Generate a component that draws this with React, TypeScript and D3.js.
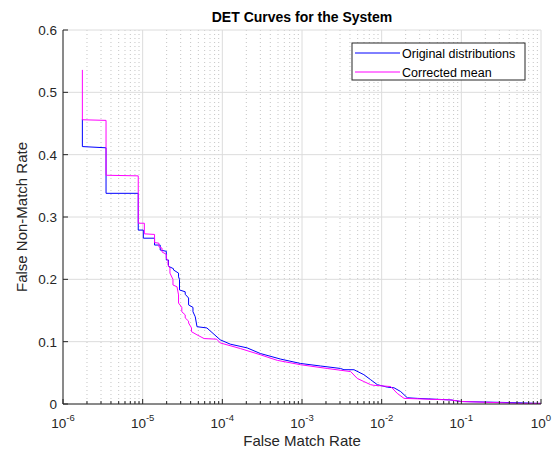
import React, { useEffect, useRef } from "react";
import * as d3 from "d3";

// DET curve vertices (FMR, FNMR)
const blueFmr = [1.75e-6, 1.75e-6, 3.47e-6, 3.47e-6, 8.8e-6, 8.8e-6, 1.02e-5, 1.02e-5, 1.41e-5, 1.41e-5, 1.66e-5, 1.66e-5, 1.98e-5, 1.98e-5, 2.11e-5, 2.11e-5, 2.44e-5, 2.44e-5, 2.82e-5, 2.82e-5, 2.9e-5, 2.9e-5, 3.42e-5, 3.42e-5, 3.77e-5, 3.77e-5, 4.28e-5, 4.28e-5, 4.57e-5, 4.81e-5, 6.4e-5, 9.4e-5, 1.26e-4, 2.05e-4, 3.0e-4, 5.4e-4, 9.6e-4, 1.7e-3, 3.05e-3, 3.36e-3, 4.49e-3, 5.98e-3, 7.27e-3, 8.83e-3, 1.18e-2, 1.43e-2, 1.73e-2, 2.1e-2, 2.81e-2, 7.4e-2, 9.9e-2, 0.51, 0.91, 1];
const blueFnmr = [0.457, 0.413, 0.411, 0.338, 0.338, 0.279, 0.279, 0.266, 0.266, 0.255, 0.255, 0.247, 0.245, 0.231, 0.231, 0.221, 0.217, 0.215, 0.21, 0.204, 0.2, 0.183, 0.18, 0.176, 0.17, 0.159, 0.155, 0.148, 0.14, 0.124, 0.122, 0.103, 0.096, 0.09, 0.081, 0.072, 0.065, 0.061, 0.057, 0.055, 0.055, 0.047, 0.039, 0.031, 0.027, 0.026, 0.02, 0.01, 0.009, 0.0065, 0.004, 0.002, 0.001, 0.001];

const pinkFmr = [1.75e-6, 1.75e-6, 3.47e-6, 3.47e-6, 8.8e-6, 8.8e-6, 1.05e-5, 1.05e-5, 1.41e-5, 1.41e-5, 1.6e-5, 1.6e-5, 1.75e-5, 1.75e-5, 1.98e-5, 1.98e-5, 2.08e-5, 2.08e-5, 2.2e-5, 2.2e-5, 2.4e-5, 2.4e-5, 2.7e-5, 2.82e-5, 2.82e-5, 3.1e-5, 3.1e-5, 3.42e-5, 3.42e-5, 3.77e-5, 3.77e-5, 4.1e-5, 4.1e-5, 4.8e-5, 5.9e-5, 8.5e-5, 9.4e-5, 1.68e-4, 3.0e-4, 4.9e-4, 9.6e-4, 2.07e-3, 4.08e-3, 4.94e-3, 5.98e-3, 7.27e-3, 8.0e-3, 1.3e-2, 1.57e-2, 1.91e-2, 7.4e-2, 9.9e-2, 0.56, 1];
const pinkFnmr = [0.536, 0.456, 0.455, 0.367, 0.366, 0.29, 0.29, 0.273, 0.272, 0.259, 0.258, 0.252, 0.25, 0.244, 0.24, 0.234, 0.23, 0.223, 0.218, 0.21, 0.2, 0.191, 0.188, 0.175, 0.162, 0.155, 0.148, 0.143, 0.138, 0.133, 0.13, 0.122, 0.116, 0.111, 0.105, 0.104, 0.098, 0.089, 0.079, 0.07, 0.063, 0.057, 0.052, 0.041, 0.036, 0.031, 0.03, 0.028, 0.017, 0.009, 0.0065, 0.004, 0.001, 0.001];

const xExponents = [-6, -5, -4, -3, -2, -1, 0];
const yTicks = [0, 0.1, 0.2, 0.3, 0.4, 0.5, 0.6];
const seriesNames = ["Original distributions", "Corrected mean"];
const seriesColors = ["#0000ff", "#ff00ff"];

const App = () => {
  const svgRef = useRef<SVGSVGElement>(null);

  useEffect(() => {
    document.body.style.margin = "0";
    const svg = d3.select(svgRef.current);
    svg.selectAll("*").remove();

    const width = 558;
    const height = 457;
    const left = 63, right = 541, top = 30, bottom = 404;
    const font = "'Liberation Sans', Arial, sans-serif";
    const axisColor = "#262626";

    const x = d3.scaleLog().domain([1e-6, 1]).range([left, right]);
    const y = d3.scaleLinear().domain([0, 0.6]).range([bottom, top]);

    svg.append("rect").attr("width", width).attr("height", height).attr("fill", "#fff");

    // minor x grid (dotted)
    const minor: number[] = [];
    xExponents.slice(0, -1).forEach((e) => {
      for (let k = 2; k <= 9; k++) minor.push(k * Math.pow(10, e));
    });
    svg.append("g").selectAll("line").data(minor).join("line")
      .attr("x1", (d) => x(d)).attr("x2", (d) => x(d))
      .attr("y1", top).attr("y2", bottom)
      .attr("stroke", "#c4c4c4").attr("stroke-width", 1)
      .attr("stroke-dasharray", "1,3");

    // major grid
    svg.append("g").selectAll("line").data(xExponents).join("line")
      .attr("x1", (d) => x(Math.pow(10, d))).attr("x2", (d) => x(Math.pow(10, d)))
      .attr("y1", top).attr("y2", bottom)
      .attr("stroke", "#dcdcdc").attr("stroke-width", 1);
    svg.append("g").selectAll("line").data(yTicks).join("line")
      .attr("x1", left).attr("x2", right)
      .attr("y1", (d) => y(d)).attr("y2", (d) => y(d))
      .attr("stroke", "#dcdcdc").attr("stroke-width", 1);

    // curves
    const line = d3.line<[number, number]>()
      .x((d) => x(d[0]))
      .y((d) => y(d[1]));
    const series = [
      blueFmr.map((f, i) => [f, blueFnmr[i]] as [number, number]),
      pinkFmr.map((f, i) => [f, pinkFnmr[i]] as [number, number]),
    ];
    series.forEach((pts, i) => {
      svg.append("path")
        .datum(pts)
        .attr("fill", "none")
        .attr("stroke", seriesColors[i])
        .attr("stroke-width", 1)
        .attr("d", line);
    });

    // axes lines
    svg.append("line").attr("x1", left).attr("x2", left).attr("y1", top).attr("y2", bottom)
      .attr("stroke", axisColor);
    svg.append("line").attr("x1", left).attr("x2", right).attr("y1", bottom).attr("y2", bottom)
      .attr("stroke", axisColor);

    // ticks (inward)
    svg.append("g").selectAll("line").data(xExponents).join("line")
      .attr("x1", (d) => x(Math.pow(10, d))).attr("x2", (d) => x(Math.pow(10, d)))
      .attr("y1", bottom).attr("y2", bottom - 5)
      .attr("stroke", axisColor);
    svg.append("g").selectAll("line").data(minor).join("line")
      .attr("x1", (d) => x(d)).attr("x2", (d) => x(d))
      .attr("y1", bottom).attr("y2", bottom - 3)
      .attr("stroke", axisColor);
    svg.append("g").selectAll("line").data(yTicks).join("line")
      .attr("x1", left).attr("x2", left + 5)
      .attr("y1", (d) => y(d)).attr("y2", (d) => y(d))
      .attr("stroke", axisColor);

    // tick labels
    const xl = svg.append("g").selectAll("text").data(xExponents).join("text")
      .attr("x", (d) => x(Math.pow(10, d)))
      .attr("y", bottom + 24)
      .attr("text-anchor", "middle")
      .attr("font-family", font)
      .attr("font-size", 13.5)
      .attr("fill", axisColor);
    xl.append("tspan").text("10");
    xl.append("tspan").attr("dy", -7).attr("font-size", 9.5).text((d) => String(d));

    svg.append("g").selectAll("text").data(yTicks).join("text")
      .attr("x", left - 6)
      .attr("y", (d) => y(d) + 5)
      .attr("text-anchor", "end")
      .attr("font-family", font)
      .attr("font-size", 13.5)
      .attr("fill", axisColor)
      .text((d) => d3.format("")(d));

    // title & labels
    svg.append("text").attr("x", (left + right) / 2).attr("y", 22)
      .attr("text-anchor", "middle").attr("font-family", font)
      .attr("font-size", 14).attr("font-weight", "bold").attr("fill", "#000")
      .text("DET Curves for the System");
    svg.append("text").attr("x", (left + right) / 2).attr("y", 446)
      .attr("text-anchor", "middle").attr("font-family", font)
      .attr("font-size", 15).attr("fill", axisColor)
      .text("False Match Rate");
    svg.append("text")
      .attr("transform", `translate(27, ${(top + bottom) / 2}) rotate(-90)`)
      .attr("text-anchor", "middle").attr("font-family", font)
      .attr("font-size", 15).attr("fill", axisColor)
      .text("False Non-Match Rate");

    // legend
    const lg = svg.append("g").attr("transform", "translate(352, 43)");
    lg.append("rect").attr("width", 173).attr("height", 37)
      .attr("fill", "#fff").attr("stroke", axisColor).attr("stroke-width", 1);
    seriesNames.forEach((name, i) => {
      const ly = 10 + i * 19;
      lg.append("line").attr("x1", 3).attr("x2", 48).attr("y1", ly).attr("y2", ly)
        .attr("stroke", seriesColors[i]).attr("stroke-width", 1);
      lg.append("text").attr("x", 50).attr("y", ly + 4.5)
        .attr("font-family", font).attr("font-size", 12.5).attr("fill", "#000")
        .text(name);
    });
  }, []);

  return <svg ref={svgRef} width="558" height="457" style={{ display: "block" }} />;
};

export default App;
